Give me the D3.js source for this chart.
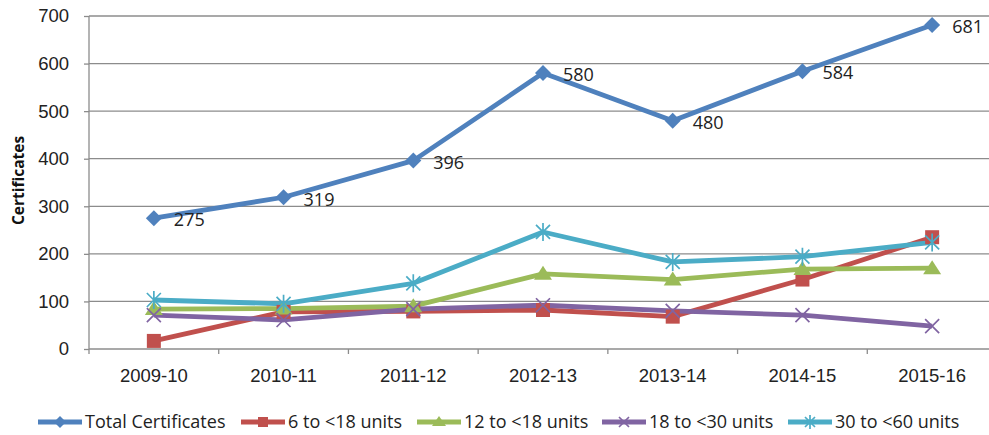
<!DOCTYPE html>
<html>
<head>
<meta charset="utf-8">
<script src="https://cdn.jsdelivr.net/npm/d3@7"></script>
<style>
  body { margin: 0; background: #fff; }
  svg { display: block; font-family: "Open Sans", "Noto Sans", sans-serif; }
  .grid line { stroke: #8c8c8c; stroke-width: 1.3; }
  .axis path, .axis line { stroke: #8c8c8c; stroke-width: 1.3; }
  .axis text { font-size: 18.5px; fill: #222; }
</style>
</head>
<body>
<div id="chart"></div>
<script>
var years = ["2009-10", "2010-11", "2011-12", "2012-13", "2013-14", "2014-15", "2015-16"];
var totalCerts = [275, 319, 396, 580, 480, 584, 681];
var units6to18 = [17, 78, 79, 82, 68, 146, 235];
var units12to18 = [84, 85, 90, 158, 146, 168, 170];
var units18to30 = [71, 61, 84, 92, 80, 71, 48];
var units30to60 = [103, 95, 138, 246, 183, 194, 224];
var yTicks = [0, 100, 200, 300, 400, 500, 600, 700];

var series = [
  {name: "Total Certificates", values: totalCerts, color: "#4f81bd", shape: "diamond", labels: true},
  {name: "6 to <18 units", values: units6to18, color: "#c0504d", shape: "square"},
  {name: "12 to <18 units", values: units12to18, color: "#9bbb59", shape: "triangle"},
  {name: "18 to <30 units", values: units18to30, color: "#8064a2", shape: "x"},
  {name: "30 to <60 units", values: units30to60, color: "#4bacc6", shape: "star"}
];

var W = 989, H = 435;
var margin = {top: 16, right: -8, bottom: 86, left: 89},
  width = W - margin.left - margin.right,
  height = H - margin.top - margin.bottom;

var svg = d3.select("#chart").append("svg")
  .attr("width", W).attr("height", H);

var g = svg.append("g")
  .attr("transform", "translate(" + margin.left + "," + margin.top + ")");

var x = d3.scaleBand().domain(years).range([0, width]);
var y = d3.scaleLinear().domain([0, 700]).range([height, 0]);

// gridlines
g.append("g").attr("class", "grid")
  .selectAll("line").data(yTicks.slice(1)).enter().append("line")
  .attr("x1", 0).attr("x2", width)
  .attr("y1", d => y(d)).attr("y2", d => y(d));

// y axis
var yAxis = g.append("g").attr("class", "axis")
  .call(d3.axisLeft(y).tickValues(yTicks).tickSize(5).tickPadding(15));
yAxis.select(".domain").attr("d", "M0," + height + "V0");

// x axis, ticks at band edges
var xAxis = g.append("g").attr("class", "axis")
  .attr("transform", "translate(0," + height + ")")
  .call(d3.axisBottom(x).tickSize(0).tickPadding(20));
xAxis.select(".domain").attr("d", "M0,0H" + width);
xAxis.selectAll(".edge").data(d3.range(years.length + 1)).enter().append("line")
  .attr("class", "edge")
  .attr("x1", i => i * x.step()).attr("x2", i => i * x.step())
  .attr("y1", 0).attr("y2", 5);

// y title
svg.append("text")
  .attr("transform", "translate(24," + (margin.top + height / 2 - 2) + ") rotate(-90)")
  .attr("text-anchor", "middle")
  .style("font-size", "15.5px").style("font-weight", "bold").style("fill", "#111")
  .text("Certificates");

function cx(i) { return x(years[i]) + x.bandwidth() / 2; }

function marker(sel, shape, color, s) {
  if (shape == "diamond") {
    sel.append("path").attr("d", "M0,-" + s + "L" + s + ",0L0," + s + "L-" + s + ",0Z").attr("fill", color);
  } else if (shape == "square") {
    sel.append("rect").attr("x", -s + 1).attr("y", -s + 1).attr("width", 2 * s - 2).attr("height", 2 * s - 2).attr("fill", color);
  } else if (shape == "triangle") {
    sel.append("path").attr("d", "M0,-" + s + "L" + (s + 1) + "," + (s - 2) + "L-" + (s + 1) + "," + (s - 2) + "Z").attr("fill", color);
  } else if (shape == "x") {
    var k = s - 1;
    sel.append("path").attr("d", "M-" + k + ",-" + k + "L" + k + "," + k + "M" + k + ",-" + k + "L-" + k + "," + k)
      .attr("stroke", color).attr("stroke-width", 1.7).attr("fill", "none");
  } else {
    var k = s - 1;
    sel.append("path").attr("d", "M-" + k + ",-" + k + "L" + k + "," + k + "M" + k + ",-" + k + "L-" + k + "," + k + "M0,-" + (s + 1) + "V" + (s + 1))
      .attr("stroke", color).attr("stroke-width", 1.7).attr("fill", "none");
  }
}

var line = d3.line().x((d, i) => cx(i)).y(d => y(d));

series.forEach(function (s) {
  g.append("path")
    .attr("d", line(s.values))
    .attr("fill", "none")
    .attr("stroke", s.color)
    .attr("stroke-width", 4.8)
    .attr("stroke-linejoin", "round");
});

series.forEach(function (s) {
  s.values.forEach(function (v, i) {
    var m = g.append("g").attr("transform", "translate(" + cx(i) + "," + y(v) + ")");
    marker(m, s.shape, s.color, 8);
  });
  if (s.labels) {
    g.selectAll(".lbl").data(s.values).enter().append("text")
      .attr("x", (d, i) => cx(i) + 20)
      .attr("y", d => y(d) + 2)
      .attr("dy", "0.35em")
      .style("font-size", "18px").style("fill", "#222")
      .text(d => d);
  }
});

// legend
var legendX = [38, 241, 417, 602, 788];
var legend = svg.append("g").attr("transform", "translate(0,422)");
series.forEach(function (s, i) {
  var it = legend.append("g").attr("transform", "translate(" + legendX[i] + ",0)");
  it.append("line").attr("x1", 0).attr("x2", 44).attr("y1", 0).attr("y2", 0)
    .attr("stroke", s.color).attr("stroke-width", 4.8);
  var m = it.append("g").attr("transform", "translate(22,0)");
  marker(m, s.shape, s.color, 6);
  it.append("text").attr("x", 47).attr("dy", "0.35em")
    .style("font-size", "18px").style("fill", "#222")
    .text(s.name);
});
</script>
</body>
</html>
